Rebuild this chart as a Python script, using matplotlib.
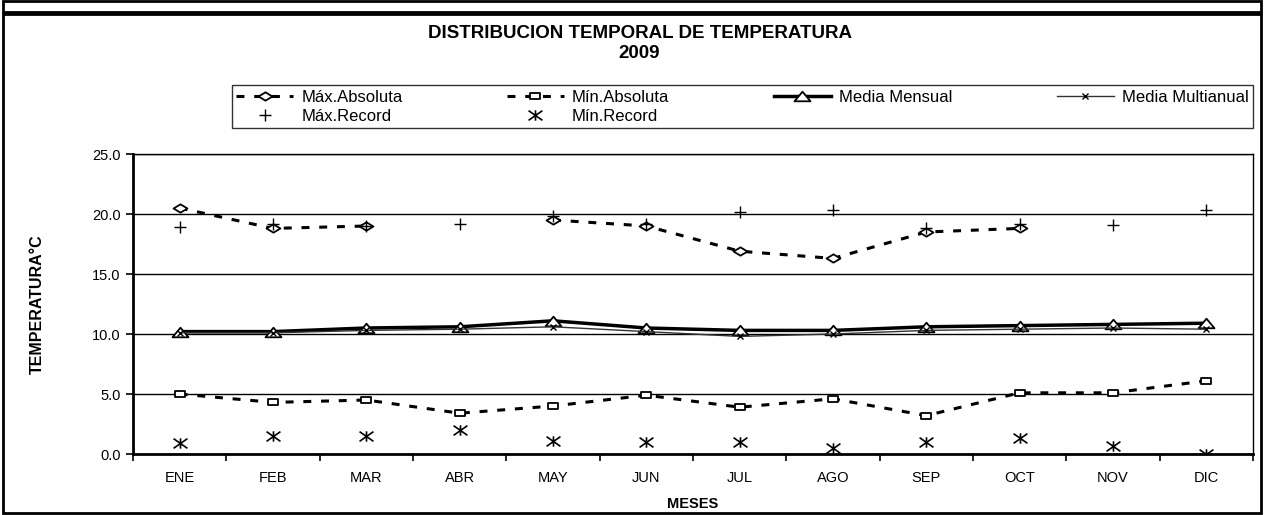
import numpy as np
import matplotlib
matplotlib.use("Agg")
import matplotlib.pyplot as plt
from matplotlib.patches import Rectangle
from matplotlib.path import Path

plt.rcParams['font.family'] = ['Liberation Sans', 'DejaVu Sans']

# datos
meses = ["ENE", "FEB", "MAR", "ABR", "MAY", "JUN", "JUL", "AGO", "SEP", "OCT", "NOV", "DIC"]
max_absoluta = [20.5, 18.8, 19.0, np.nan, 19.5, 19.0, 16.9, 16.3, 18.5, 18.8, np.nan, np.nan]
min_absoluta = [5.0, 4.3, 4.5, 3.4, 4.0, 4.9, 3.9, 4.6, 3.2, 5.1, 5.1, 6.1]
media_mensual = [10.2, 10.2, 10.5, 10.6, 11.1, 10.5, 10.3, 10.3, 10.6, 10.7, 10.8, 10.9]
media_multianual = [10.1, 10.1, 10.3, 10.4, 10.6, 10.2, 9.8, 10.0, 10.3, 10.4, 10.5, 10.4]
max_record = [18.9, 19.2, 19.0, 19.2, 19.8, 19.2, 20.2, 20.3, 18.8, 19.2, 19.1, 20.3]
min_record = [0.9, 1.5, 1.5, 2.0, 1.1, 1.0, 1.0, 0.5, 1.0, 1.3, 0.7, 0.0]

x = np.arange(len(meses))

# marcadores algo achatados, como en el original
rombo = Path([(-1, 0), (0, 0.6), (1, 0), (0, -0.6), (-1, 0)], closed=True)
triangulo = Path([(-1, -0.6), (0, 0.6), (1, -0.6), (-1, -0.6)], closed=True)
cuadro = Path([(-1, -0.65), (1, -0.65), (1, 0.65), (-1, 0.65), (-1, -0.65)], closed=True)
asterisco = Path([(-1, -0.7), (1, 0.7), (-1, 0.7), (1, -0.7), (0, -0.75), (0, 0.75)],
                 [Path.MOVETO, Path.LINETO, Path.MOVETO, Path.LINETO, Path.MOVETO, Path.LINETO])

fig = plt.figure(figsize=(12.64, 5.15), dpi=100)
ax = fig.add_axes([133 / 1264, 61 / 515, 1120 / 1264, 300 / 515])

dash = (2.6, 3.2)
h1, = ax.plot(x, max_absoluta, color="black", lw=2.2, dashes=dash, marker=rombo, ms=10,
              mfc="white", mec="black", mew=1.3, label="Máx.Absoluta", zorder=4)
h2, = ax.plot(x, min_absoluta, color="black", lw=2.2, dashes=dash, marker=cuadro, ms=7.5,
              mfc="white", mec="black", mew=1.3, label="Mín.Absoluta", zorder=4)
h3, = ax.plot(x, media_mensual, color="black", lw=2.5, marker=triangulo, ms=11.5,
              mfc="white", mec="black", mew=1.3, label="Media Mensual", zorder=3)
h4, = ax.plot(x, media_multianual, color="#333333", lw=1, marker="x", ms=5,
              mec="black", mew=1, label="Media Multianual", zorder=3)
h5, = ax.plot(x, max_record, ls="none", marker="+", ms=9, mec="black", mew=1,
              label="Máx.Record", zorder=5)
h6, = ax.plot(x, min_record, ls="none", marker=asterisco, ms=10, mec="black", mew=1.2,
              label="Mín.Record", zorder=5)

ax.set_xlim(-0.5, len(meses) - 0.5)
ax.set_ylim(0, 25)
ax.set_yticks(np.arange(0, 25.1, 5))
ax.set_yticklabels([f"{v:.1f}" for v in np.arange(0, 25.1, 5)])
ax.set_xticks(x)
ax.set_xticklabels(meses)
ax.set_xticks(np.arange(-0.5, len(meses), 1), minor=True)
ax.tick_params(axis="x", which="major", length=0, pad=12, labelsize=10.5)
ax.tick_params(axis="x", which="minor", length=5, width=1.2, direction="out")
ax.tick_params(axis="y", length=5, width=1.2, direction="out", labelsize=10.5, pad=4)
ax.yaxis.grid(True, color="black", lw=1)
ax.set_axisbelow(True)

for s in ["top", "right"]:
    ax.spines[s].set_linewidth(1)
for s in ["left", "bottom"]:
    ax.spines[s].set_linewidth(2)

ax.set_ylabel("TEMPERATURA°C", fontsize=11.5, fontweight="bold", labelpad=34)
ax.set_xlabel("MESES", fontsize=10.5, fontweight="bold", labelpad=9)

fig.text(0.506, 1 - 33 / 515, "DISTRIBUCION TEMPORAL DE TEMPERATURA", ha="center",
         va="center", fontsize=13.5, fontweight="bold")
fig.text(0.506, 1 - 53 / 515, "2009", ha="center", va="center", fontsize=13.5,
         fontweight="bold")

# orden para que la leyenda se lea por filas
handles = [h1, h5, h2, h6, h3, h4]
leg = fig.legend(handles, [h.get_label() for h in handles], loc="lower left",
                 bbox_to_anchor=(232 / 1264, 1 - 128 / 515, 1021 / 1264, 48 / 515),
                 mode="expand", ncol=4, fontsize=12, handlelength=3.4, frameon=True,
                 fancybox=False, edgecolor="black", borderpad=0.25, labelspacing=0.25,
                 handletextpad=0.5, borderaxespad=0)
leg.get_frame().set_linewidth(1)

# marco exterior
fig.patches.append(Rectangle((3 / 1264, 2 / 515), 1258 / 1264, 499 / 515,
                             transform=fig.transFigure, fill=False, ec="black", lw=2))
fig.patches.append(Rectangle((3 / 1264, 503 / 515), 1258 / 1264, 11 / 515,
                             transform=fig.transFigure, fill=False, ec="black", lw=2))

fig.savefig("out.png", dpi=100)
